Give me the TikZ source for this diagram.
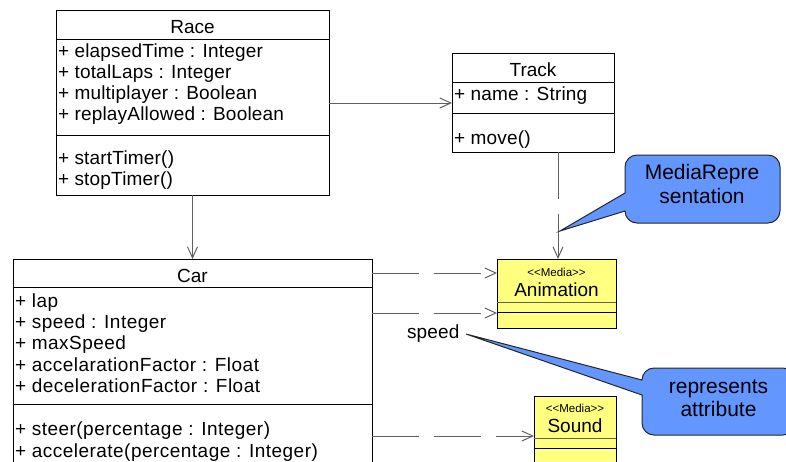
\documentclass[tikz,border=0pt]{standalone}
\usepackage{fontspec}
\setmainfont{Liberation Sans}
\usetikzlibrary{arrows.meta}
\definecolor{callblue}{RGB}{100,150,255}
\definecolor{mediayellow}{RGB}{255,255,128}
\definecolor{linegray}{RGB}{96,96,96}
\begin{document}
\begin{tikzpicture}[x=1pt,y=-1pt,
  box/.style={draw=black, line width=1pt, anchor=north west, inner sep=0pt, outer sep=0pt},
  txt/.style={inner sep=0pt, outer sep=0pt, anchor=base west, font=\fontsize{19}{21}\selectfont\addfontfeature{LetterSpace=1}},
  cartxt/.style={txt, font=\fontsize{19}{21}\selectfont\addfontfeature{LetterSpace=2.5}},
  ttl/.style={inner sep=0pt, outer sep=0pt, anchor=base, font=\fontsize{19}{21}\selectfont},
  stereo/.style={inner sep=0pt, outer sep=0pt, anchor=base, font=\fontsize{11.5}{12}\selectfont},
  ctxt/.style={inner sep=0pt, outer sep=0pt, anchor=base, font=\fontsize{21}{24}\selectfont},
  sepline/.style={draw=black, line width=1pt},
  conn/.style={draw=linegray, line width=1pt, -{Straight Barb[length=11pt,width=10pt]}},
  dep/.style={conn, dash pattern=on 47pt off 15pt},
  callout/.style={draw=black!85, line width=1pt, fill=callblue},
]
\useasboundingbox (0,0) rectangle (786,461);

% ---------- Race ----------
\node[box, minimum width=273pt, minimum height=185pt] (race) at (56,10) {};
\draw[sepline] (race.west |- 0,39) -- (race.east |- 0,39);
\draw[sepline] (race.west |- 0,135) -- (race.east |- 0,135);
\node[ttl] (racet) at (192.5,33) {Race};
\node[txt] (ra1) at (58,57) {+ elapsedTime : Integer};
\node[txt] (ra2) at (58,78) {+ totalLaps : Integer};
\node[txt] (ra3) at (58,99) {+ multiplayer : Boolean};
\node[txt] (ra4) at (58,120) {+ replayAllowed : Boolean};
\node[txt] (rm1) at (58,164) {+ startTimer()};
\node[txt] (rm2) at (58,185) {+ stopTimer()};

% ---------- Track ----------
\node[box, minimum width=162pt, minimum height=99pt] (track) at (452,53) {};
\draw[sepline] (track.west |- 0,82) -- (track.east |- 0,82);
\draw[sepline] (track.west |- 0,113) -- (track.east |- 0,113);
\node[ttl] (trackt) at (533,76) {Track};
\node[txt] (ta1) at (454,100) {+ name : String};
\node[txt] (tm1) at (454,144) {+ move()};

% ---------- Car ----------
\node[box, minimum width=359pt, minimum height=225pt] (car) at (13,259) {};
\draw[sepline] (car.west |- 0,287) -- (car.east |- 0,287);
\draw[sepline] (car.west |- 0,404) -- (car.east |- 0,404);
\node[ttl] (cart) at (192.5,282) {Car};
\node[cartxt] (ca1) at (15,307) {+ lap};
\node[cartxt] (ca2) at (15,328) {+ speed : Integer};
\node[cartxt] (ca3) at (15,349) {+ maxSpeed};
\node[cartxt] (ca4) at (15,371) {+ accelarationFactor : Float};
\node[cartxt] (ca5) at (15,392) {+ decelerationFactor : Float};
\node[cartxt] (cm1) at (15,435) {+ steer(percentage : Integer)};
\node[cartxt] (cm2) at (15,457) {+ accelerate(percentage : Integer)};

% ---------- Animation ----------
\node[box, fill=mediayellow, minimum width=119pt, minimum height=69pt] (anim) at (497,259) {};
\draw[draw=linegray, line width=1pt] (anim.west |- 0,302) -- (anim.east |- 0,302);
\draw[sepline] (anim.west |- 0,312) -- (anim.east |- 0,312);
\node[stereo] (anims) at (556.5,276) {<\kern0pt<Media>\kern0pt>};
\node[ttl] (animt) at (556.5,296) {Animation};

% ---------- Sound ----------
\node[box, fill=mediayellow, minimum width=82pt, minimum height=90pt] (sound) at (534,396) {};
\draw[draw=linegray, line width=1pt] (sound.west |- 0,438) -- (sound.east |- 0,438);
\draw[sepline] (sound.west |- 0,448) -- (sound.east |- 0,448);
\node[stereo] (sounds) at (575,412) {<\kern0pt<Media>\kern0pt>};
\node[ttl] (soundt) at (575,432) {Sound};

% ---------- Connectors ----------
\draw[conn] (race.east |- 0,103) -- (track.west |- 0,103);
\draw[conn] (race.south) -- (race.south |- car.north);
\draw[dep] (track.south -| 558,0) -- (anim.north -| 558,0);
\draw[dep] (car.east |- 0,273) -- (anim.west |- 0,273);
\draw[dep] (car.east |- 0,313) -- (anim.west |- 0,313);
\draw[dep] (car.east |- 0,436) -- (sound.west |- 0,436);

\node[txt] (speedlbl) at (407,338) {speed};

% ---------- Callouts ----------
\path[callout] (560,231) -- (625,193) -- (625,167)
  arc[start angle=180,end angle=270,radius=12] -- (768,155)
  arc[start angle=270,end angle=360,radius=12] -- (780,211)
  arc[start angle=0,end angle=90,radius=12] -- (637,223)
  arc[start angle=90,end angle=180,radius=12] -- cycle;
\node[ctxt] (c1a) at (702,179) {MediaRepre};
\node[ctxt] (c1b) at (702,203) {sentation};

\path[callout] (466,334) -- (642,380)
  arc[start angle=180,end angle=270,radius=12] -- (783,368)
  arc[start angle=270,end angle=360,radius=12] -- (795,423)
  arc[start angle=0,end angle=90,radius=12] -- (654,435)
  arc[start angle=90,end angle=180,radius=12] -- (642,395) -- cycle;
\node[ctxt] (c2a) at (718.5,393) {represents};
\node[ctxt] (c2b) at (718.5,416) {attribute};
\end{tikzpicture}
\end{document}
